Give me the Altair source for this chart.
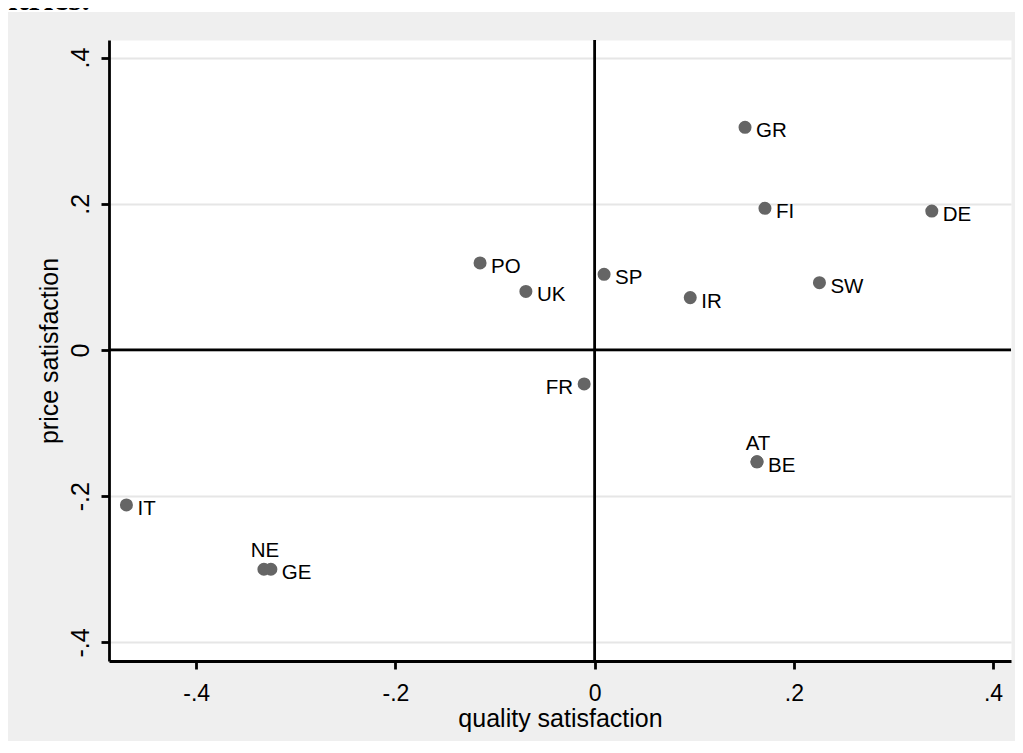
import altair as alt
import pandas as pd

# ---- data ----
countries = ["GR", "FI", "DE", "PO", "SP", "UK", "IR", "SW", "FR", "AT", "BE", "IT", "NE", "GE"]
quality = [0.151, 0.171, 0.3385, -0.115, 0.0095, -0.069, 0.096, 0.2257, -0.0105, 0.163, 0.163, -0.470, -0.332, -0.325]
price = [0.3046, 0.1938, 0.190, 0.119, 0.1035, 0.080, 0.0716, 0.092, -0.0465, -0.153, -0.153, -0.212, -0.300, -0.300]
label_pos = [3, 3, 3, 3, 3, 3, 3, 3, 9, 12, 3, 3, 12, 3]  # clock position of marker labels

tick_values = [-0.4, -0.2, 0, 0.2, 0.4]
tick_labels = ["-.4", "-.2", "0", ".2", ".4"]
x_title = "quality satisfaction"
y_title = "price satisfaction"
caption = "countries."

df = pd.DataFrame({"country": countries, "quality": quality, "price": price, "pos": label_pos})

FONT = "Liberation Sans"
W, H = 902, 621
XDOM = [-0.4875, 0.418]
YDOM = [-0.4255, 0.424]
LW = 2.8

label_expr = " : ".join(
    f"abs(datum.value - ({v})) < 1e-9 ? '{l}'" for v, l in zip(tick_values, tick_labels)
) + " : ''"

x_enc = alt.X(
    "quality:Q",
    scale=alt.Scale(domain=XDOM, nice=False, zero=False),
    axis=alt.Axis(
        values=tick_values, labelExpr=label_expr, grid=False,
        domainColor="black", domainWidth=LW, tickColor="black", tickWidth=LW, tickSize=8,
        labelFont=FONT, labelFontSize=23, labelColor="black", labelBaseline="alphabetic",
        labelAlign="center", labelPadding=31, labelFlush=False, labelOverlap=False,
        title=x_title, titleFont=FONT, titleFontSize=25, titleFontWeight="normal",
        titleColor="black", titleX=W / 2, titleY=65, titleBaseline="alphabetic", titleAlign="center",
    ),
)
y_enc = alt.Y(
    "price:Q",
    scale=alt.Scale(domain=YDOM, nice=False, zero=False),
    axis=alt.Axis(
        values=tick_values, labelExpr=label_expr, grid=True, gridColor="#e6e6e6", gridWidth=2,
        domainColor="black", domainWidth=LW, tickColor="black", tickWidth=LW, tickSize=8,
        labelFont=FONT, labelFontSize=25, labelColor="black", labelAngle=270,
        labelAlign="center", labelBaseline="alphabetic", labelPadding=13,
        labelFlush=False, labelOverlap=False,
        title=y_title, titleFont=FONT, titleFontSize=25, titleFontWeight="normal",
        titleColor="black", titleAngle=270, titleX=-52, titleY=H / 2,
        titleBaseline="alphabetic", titleAlign="center",
    ),
)

base = alt.Chart(df)

zero_h = alt.Chart(pd.DataFrame({"v": [0]})).mark_rule(color="black", strokeWidth=LW).encode(
    y=alt.Y("v:Q", scale=alt.Scale(domain=YDOM, nice=False, zero=False))
)
zero_v = alt.Chart(pd.DataFrame({"v": [0]})).mark_rule(color="black", strokeWidth=LW).encode(
    x=alt.X("v:Q", scale=alt.Scale(domain=XDOM, nice=False, zero=False))
)

points = base.mark_circle(size=170, color="#656565", opacity=1).encode(x=x_enc, y=y_enc)

lab_kw = dict(font=FONT, fontSize=20.5, color="black", baseline="alphabetic")
lab_right = base.transform_filter("datum.pos == 3").mark_text(align="left", dx=11, dy=10, **lab_kw).encode(
    x="quality:Q", y="price:Q", text="country:N")
lab_left = base.transform_filter("datum.pos == 9").mark_text(align="right", dx=-11, dy=10, **lab_kw).encode(
    x="quality:Q", y="price:Q", text="country:N")
lab_top = base.transform_filter("datum.pos == 12").mark_text(align="center", dx=1, dy=-12, **lab_kw).encode(
    x="quality:Q", y="price:Q", text="country:N")

one = pd.DataFrame({"a": [0]})
strip = alt.Chart(one).mark_rect(color="white", clip=False).encode(
    x=alt.value(-101), x2=alt.value(W + 10), y=alt.value(-32), y2=alt.value(-28))
cap = alt.Chart(one).mark_text(
    font="Liberation Serif", fontWeight="bold", fontSize=34, align="right",
    baseline="alphabetic", color="black", clip=False,
).encode(x=alt.value(-19), y=alt.value(-30), text=alt.value(caption))

chart = alt.layer(strip, cap, zero_h, zero_v, points, lab_right, lab_left, lab_top).properties(
    width=W, height=H,
    padding={"left": 101, "top": 32, "right": 4, "bottom": 80},
    autosize=alt.AutoSizeParams(type="none"),
).configure(background="#efefef").configure_view(fill="white", stroke="transparent")

chart.save("out.html", embed_options={"renderer": "svg", "actions": False})
